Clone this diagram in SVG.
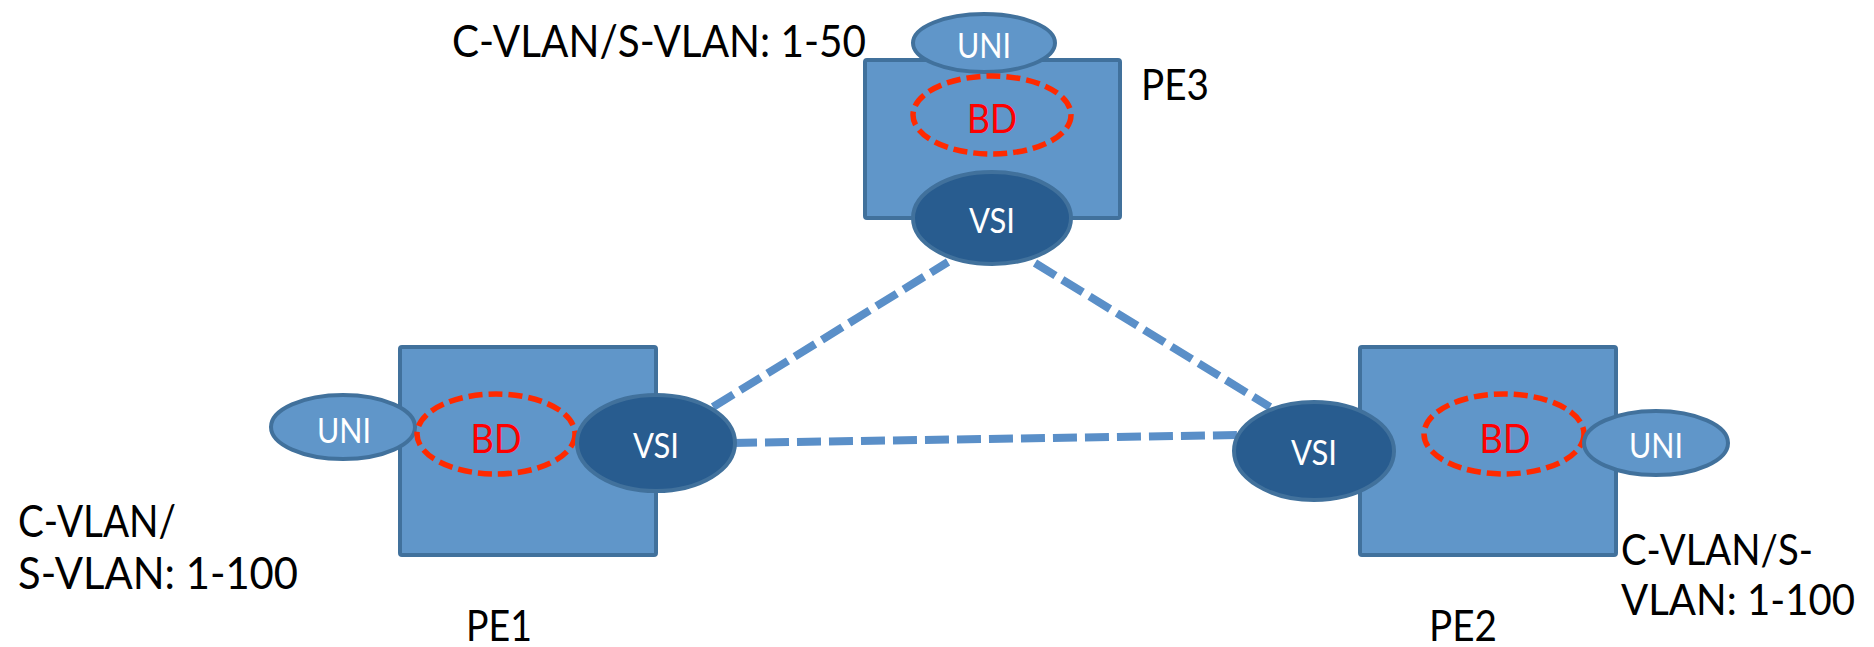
<svg xmlns="http://www.w3.org/2000/svg" width="1874" height="647" viewBox="0 0 1874 647">
<style>
.pe{fill:#6096C9;stroke:#41719C;stroke-width:4}
.uni{fill:#6096C9;stroke:#41719C;stroke-width:4}
.vsi{fill:#285C8F;stroke:#41719C;stroke-width:4}
.bd{fill:none;stroke:#FF2A00;stroke-width:5.5;stroke-dasharray:14 6}
.link{stroke:#5A8FC8;stroke-width:8;stroke-dasharray:24 8;fill:none}
text{font-family:Lato,"Open Sans","Liberation Sans",sans-serif}
.lbl{font-size:44px;fill:#000}
.lbr{font-size:42px;fill:#000}
.pel{font-size:42px;fill:#000}
.w{font-size:34px;fill:#fff;text-anchor:middle}
.r{font-size:41px;fill:#FF0000;text-anchor:middle}
</style>
<rect width="1874" height="647" fill="#fff"/>
<g id="connectors">
<line class="link" x1="713" y1="407" x2="948" y2="262"/>
<line class="link" x1="1035" y1="263" x2="1270" y2="407"/>
<line class="link" x1="733" y1="443" x2="1240" y2="435"/>
</g>
<g id="PE3">
<rect class="pe" x="865" y="60" width="255" height="158" rx="2"/>
<ellipse class="uni" cx="984" cy="43" rx="71" ry="29"/>
<text class="w" x="984" y="58" textLength="54" lengthAdjust="spacingAndGlyphs">UNI</text>
<ellipse class="bd" cx="992" cy="115" rx="79" ry="39"/>
<text class="r" x="992" y="133" textLength="50" lengthAdjust="spacingAndGlyphs">BD</text>
<ellipse class="vsi" cx="992" cy="218" rx="79" ry="46"/>
<text class="w" x="992" y="233" textLength="46" lengthAdjust="spacingAndGlyphs">VSI</text>
<text class="pel" x="1141" y="100" textLength="68" lengthAdjust="spacingAndGlyphs">PE3</text>
<text class="lbl" x="452" y="57" textLength="414" lengthAdjust="spacingAndGlyphs">C-VLAN/S-VLAN: 1-50</text>
</g>
<g id="PE1">
<rect class="pe" x="400" y="347" width="256" height="208" rx="2"/>
<ellipse class="uni" cx="343" cy="427" rx="72" ry="32"/>
<text class="w" x="344" y="443" textLength="54" lengthAdjust="spacingAndGlyphs">UNI</text>
<ellipse class="bd" cx="496" cy="434" rx="79" ry="40"/>
<text class="r" x="496" y="453" textLength="51" lengthAdjust="spacingAndGlyphs">BD</text>
<ellipse class="vsi" cx="656" cy="443" rx="79" ry="48"/>
<text class="w" x="656" y="458" textLength="46" lengthAdjust="spacingAndGlyphs">VSI</text>
<text class="pel" x="466" y="641" textLength="66" lengthAdjust="spacingAndGlyphs">PE1</text>
<text class="lbl" x="18" y="537" textLength="158" lengthAdjust="spacingAndGlyphs">C-VLAN/</text>
<text class="lbl" x="18" y="589" textLength="280" lengthAdjust="spacingAndGlyphs">S-VLAN: 1-100</text>
</g>
<g id="PE2">
<rect class="pe" x="1360" y="347" width="256" height="208" rx="2"/>
<ellipse class="vsi" cx="1314" cy="451" rx="80" ry="49"/>
<text class="w" x="1314" y="465" textLength="46" lengthAdjust="spacingAndGlyphs">VSI</text>
<ellipse class="bd" cx="1504" cy="434" rx="80" ry="40"/>
<text class="r" x="1505" y="453" textLength="51" lengthAdjust="spacingAndGlyphs">BD</text>
<ellipse class="uni" cx="1656" cy="443" rx="72" ry="32"/>
<text class="w" x="1656" y="458" textLength="54" lengthAdjust="spacingAndGlyphs">UNI</text>
<text class="pel" x="1429" y="641" textLength="68" lengthAdjust="spacingAndGlyphs">PE2</text>
<text class="lbr" x="1621" y="565" textLength="192" lengthAdjust="spacingAndGlyphs">C-VLAN/S-</text>
<text class="lbr" x="1621" y="615" textLength="234" lengthAdjust="spacingAndGlyphs">VLAN: 1-100</text>
</g>
</svg>
